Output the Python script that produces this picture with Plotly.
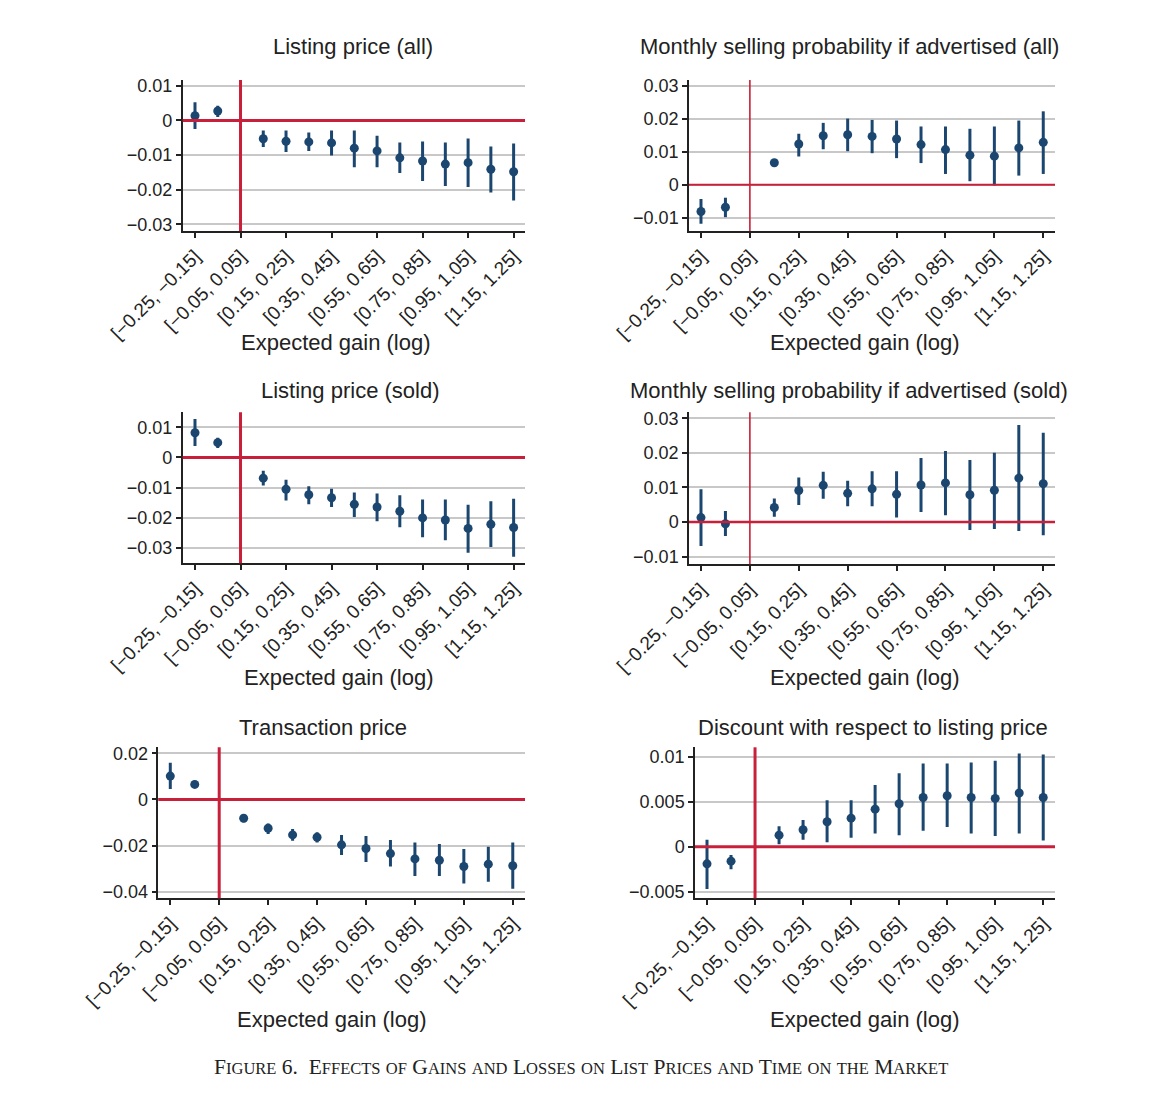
import plotly.graph_objects as go

# ---------------- data ----------------
CATEGORIES = ["[−0.25, −0.15]", "[−0.15, −0.05]", "[−0.05, 0.05]", "[0.05, 0.15]",
              "[0.15, 0.25]", "[0.25, 0.35]", "[0.35, 0.45]", "[0.45, 0.55]",
              "[0.55, 0.65]", "[0.65, 0.75]", "[0.75, 0.85]", "[0.85, 0.95]",
              "[0.95, 1.05]", "[1.05, 1.15]", "[1.15, 1.25]"]
REFERENCE_BIN = "[−0.05, 0.05]"
TICK_LABELS = ["[−0.25, −0.15]", "[−0.05, 0.05]", "[0.15, 0.25]", "[0.35, 0.45]",
               "[0.55, 0.65]", "[0.75, 0.85]", "[0.95, 1.05]", "[1.15, 1.25]"]
POINT_BINS = [c for c in CATEGORIES if c != REFERENCE_BIN]

# Listing price (all)
lp_all_est = [0.00135, 0.0027, -0.0053, -0.0060, -0.0062, -0.0065, -0.0080, -0.0088, -0.0108, -0.0117, -0.0126, -0.0122, -0.0141, -0.0148]
lp_all_hi  = [0.0052, 0.0042, -0.0029, -0.0029, -0.0035, -0.0029, -0.0029, -0.0044, -0.0064, -0.0061, -0.0064, -0.0052, -0.0075, -0.0067]
lp_all_lo  = [-0.0025, 0.0010, -0.0077, -0.0091, -0.0088, -0.0101, -0.0135, -0.0135, -0.0152, -0.0175, -0.0189, -0.0192, -0.0208, -0.0231]

# Monthly selling probability if advertised (all)
sp_all_est = [-0.0081, -0.0068, 0.0067, 0.0124, 0.0149, 0.0152, 0.0147, 0.0139, 0.0122, 0.0107, 0.0090, 0.0087, 0.0112, 0.0129]
sp_all_hi  = [-0.0043, -0.0039, 0.0074, 0.0155, 0.0188, 0.0201, 0.0197, 0.0195, 0.0177, 0.0177, 0.0170, 0.0177, 0.0195, 0.0223]
sp_all_lo  = [-0.0118, -0.0098, 0.0060, 0.0086, 0.0108, 0.0102, 0.0096, 0.0081, 0.0066, 0.0033, 0.0011, -0.0002, 0.0028, 0.0033]

# Listing price (sold)
lp_sold_est = [0.0082, 0.0049, -0.0069, -0.0106, -0.0124, -0.0134, -0.0156, -0.0165, -0.0179, -0.0201, -0.0208, -0.0236, -0.0222, -0.0233]
lp_sold_hi  = [0.0128, 0.0065, -0.0044, -0.0074, -0.0096, -0.0104, -0.0117, -0.0120, -0.0126, -0.0140, -0.0140, -0.0157, -0.0146, -0.0137]
lp_sold_lo  = [0.0038, 0.0031, -0.0093, -0.0143, -0.0156, -0.0165, -0.0198, -0.0212, -0.0232, -0.0265, -0.0275, -0.0317, -0.0298, -0.0330]

# Monthly selling probability if advertised (sold)
sp_sold_est = [0.0013, -0.0005, 0.0042, 0.0091, 0.0106, 0.0083, 0.0096, 0.0080, 0.0107, 0.0113, 0.0079, 0.0092, 0.0127, 0.0111]
sp_sold_hi  = [0.0095, 0.0032, 0.0068, 0.0129, 0.0145, 0.0119, 0.0147, 0.0147, 0.0185, 0.0205, 0.0179, 0.0200, 0.0280, 0.0258]
sp_sold_lo  = [-0.0069, -0.0040, 0.0015, 0.0049, 0.0067, 0.0046, 0.0046, 0.0013, 0.0029, 0.0020, -0.0023, -0.0020, -0.0026, -0.0038]

# Transaction price
tp_est = [0.0101, 0.0065, -0.0082, -0.0125, -0.0154, -0.0164, -0.0197, -0.0213, -0.0235, -0.0258, -0.0264, -0.0291, -0.0281, -0.0288]
tp_hi  = [0.0159, 0.0081, -0.0068, -0.0104, -0.0128, -0.0143, -0.0154, -0.0159, -0.0176, -0.0187, -0.0193, -0.0215, -0.0205, -0.0187]
tp_lo  = [0.0045, 0.0050, -0.0099, -0.0150, -0.0179, -0.0187, -0.0241, -0.0271, -0.0291, -0.0332, -0.0332, -0.0365, -0.0357, -0.0388]

# Discount with respect to listing price
dc_est = [-0.0019, -0.0016, 0.0013, 0.0019, 0.0028, 0.0032, 0.0042, 0.0048, 0.0055, 0.0057, 0.0055, 0.0054, 0.0060, 0.0055]
dc_hi  = [0.0008, -0.0009, 0.0023, 0.0030, 0.0052, 0.0052, 0.0069, 0.0082, 0.0093, 0.0093, 0.0094, 0.0096, 0.0104, 0.0103]
dc_lo  = [-0.0047, -0.0025, 0.0003, 0.0008, 0.0005, 0.0010, 0.0015, 0.0013, 0.0018, 0.0022, 0.0015, 0.0012, 0.0015, 0.0007]

TITLES = ["Listing price (all)", "Monthly selling probability if advertised (all)",
          "Listing price (sold)", "Monthly selling probability if advertised (sold)",
          "Transaction price", "Discount with respect to listing price"]
X_TITLE = "Expected gain (log)"

Y_TICKS = [
    [0.01, 0, -0.01, -0.02, -0.03],
    [0.03, 0.02, 0.01, 0, -0.01],
    [0.01, 0, -0.01, -0.02, -0.03],
    [0.03, 0.02, 0.01, 0, -0.01],
    [0.02, 0, -0.02, -0.04],
    [0.01, 0.005, 0, -0.005],
]
Y_TICK_LABELS = [
    ["0.01", "0", "−0.01", "−0.02", "−0.03"],
    ["0.03", "0.02", "0.01", "0", "−0.01"],
    ["0.01", "0", "−0.01", "−0.02", "−0.03"],
    ["0.03", "0.02", "0.01", "0", "−0.01"],
    ["0.02", "0", "−0.02", "−0.04"],
    ["0.01", "0.005", "0", "−0.005"],
]
SERIES = [
    (lp_all_est, lp_all_lo, lp_all_hi),
    (sp_all_est, sp_all_lo, sp_all_hi),
    (lp_sold_est, lp_sold_lo, lp_sold_hi),
    (sp_sold_est, sp_sold_lo, sp_sold_hi),
    (tp_est, tp_lo, tp_hi),
    (dc_est, dc_lo, dc_hi),
]

# ---------------- layout (pixels) ----------------
W, H = 1161, 1094
LAYOUT = [
    dict(x=(182.7, 525), y=(80, 231), yr=(-0.0319, 0.01165), xr=(-0.54, 14.5),
         title=(353, 47), xt=(336, 343), hw=3, vw=3),
    dict(x=(689, 1055), y=(80, 231), yr=(-0.0140, 0.0318), xr=(-0.49, 14.48),
         title=(849.5, 47), xt=(865, 343), hw=2, vw=1.6),
    dict(x=(182.7, 525), y=(412.3, 563.3), yr=(-0.0352, 0.0150), xr=(-0.54, 14.5),
         title=(350.5, 391), xt=(339, 677), hw=3, vw=3),
    dict(x=(689, 1055), y=(412.3, 564.3), yr=(-0.0122, 0.0317), xr=(-0.49, 14.48),
         title=(849, 391), xt=(865, 677), hw=2.5, vw=1.6),
    dict(x=(158.3, 525), y=(747.3, 898.3), yr=(-0.0429, 0.0226), xr=(-0.49, 14.5),
         title=(323, 727), xt=(331.5, 1019), hw=3, vw=3),
    dict(x=(695, 1055), y=(747.3, 898.3), yr=(-0.00574, 0.0111), xr=(-0.5, 14.49),
         title=(873, 727), xt=(865, 1019), hw=3, vw=3),
]

BLUE = "#1b4670"
RED = "#c8203a"
GRID = "#c8c8c8"
INK = "#222222"
FONT = "Liberation Sans, Arial, sans-serif"

fig = go.Figure()
shapes = []
annotations = []
ref_idx = CATEGORIES.index(REFERENCE_BIN)

for i, ((est, lo, hi), lay) in enumerate(zip(SERIES, LAYOUT)):
    n = i + 1
    xn = "x" if n == 1 else f"x{n}"
    yn = "y" if n == 1 else f"y{n}"
    xk = "xaxis" if n == 1 else f"xaxis{n}"
    yk = "yaxis" if n == 1 else f"yaxis{n}"

    fig.add_trace(go.Scatter(
        x=POINT_BINS, y=est, mode="markers",
        marker=dict(color=BLUE, size=9),
        error_y=dict(type="data", symmetric=False,
                     array=[h - e for h, e in zip(hi, est)],
                     arrayminus=[e - l for e, l in zip(est, lo)],
                     thickness=3, width=0, color=BLUE),
        xaxis=xn, yaxis=yn, showlegend=False, hoverinfo="skip"))

    fig.layout[xk] = dict(
        domain=[lay["x"][0] / W, lay["x"][1] / W], anchor=yn, automargin=False,
        type="category", categoryorder="array", categoryarray=CATEGORIES,
        range=list(lay["xr"]), tickmode="array", tickvals=TICK_LABELS, ticktext=TICK_LABELS,
        tickangle=-45, ticks="outside", ticklen=5, tickwidth=1.5, tickcolor=INK,
        showline=True, linecolor=INK, linewidth=1.5, showgrid=False, zeroline=False,
        tickfont=dict(family=FONT, size=19, color=INK))
    fig.layout[yk] = dict(
        domain=[1 - lay["y"][1] / H, 1 - lay["y"][0] / H], anchor=xn, automargin=False,
        range=list(lay["yr"]), tickmode="array", tickvals=Y_TICKS[i], ticktext=Y_TICK_LABELS[i],
        ticks="outside", ticklen=5, tickwidth=1.5, tickcolor=INK,
        showline=True, linecolor=INK, linewidth=1.5,
        showgrid=True, gridcolor=GRID, gridwidth=1.5, zeroline=False,
        tickfont=dict(family=FONT, size=18, color=INK))

    shapes.append(dict(type="line", xref=xn, yref=f"{yn} domain", x0=ref_idx, x1=ref_idx,
                       y0=0, y1=1, line=dict(color=RED, width=lay["vw"]), layer="above"))
    shapes.append(dict(type="line", xref=f"{xn} domain", yref=yn, x0=0, x1=1, y0=0, y1=0,
                       line=dict(color=RED, width=lay["hw"]), layer="above"))

    annotations.append(dict(text=TITLES[i], xref="paper", yref="paper",
                            x=lay["title"][0] / W, y=1 - lay["title"][1] / H,
                            xanchor="center", yanchor="middle", showarrow=False,
                            font=dict(family=FONT, size=22, color=INK)))
    annotations.append(dict(text=X_TITLE, xref="paper", yref="paper",
                            x=lay["xt"][0] / W, y=1 - lay["xt"][1] / H,
                            xanchor="center", yanchor="middle", showarrow=False,
                            font=dict(family=FONT, size=22, color=INK)))


def small_caps(text, big=21.5, small=16.5):
    out = []
    for word in text.split(" "):
        if word == "":
            out.append("")
            continue
        first, rest = word[0], word[1:]
        if first.isupper() or first.isdigit():
            s = f'<span style="font-size:{big}px">{first}</span>'
        else:
            s = f'<span style="font-size:{small}px">{first.upper()}</span>'
        if rest:
            if not any(c.isalpha() for c in rest):
                s += f'<span style="font-size:{big}px">{rest}</span>'
            else:
                s += f'<span style="font-size:{small}px">{rest.upper()}</span>'
        out.append(s)
    return "&nbsp;".join(out)


CAPTION = "Figure 6.  Effects of Gains and Losses on List Prices and Time on the Market"
annotations.append(dict(text=small_caps(CAPTION), xref="paper", yref="paper",
                        x=580.5 / W, y=1 - 1067 / H, xanchor="center", yanchor="middle",
                        showarrow=False,
                        font=dict(family="Liberation Serif, Times New Roman, serif", size=21.5, color=INK)))

fig.update_layout(
    width=W, height=H, autosize=False,
    margin=dict(l=0, r=0, t=0, b=0, autoexpand=False),
    paper_bgcolor="white", plot_bgcolor="white",
    shapes=shapes, annotations=annotations,
    font=dict(family=FONT, color=INK),
)

fig.write_html("out.html", config={"displayModeBar": False},
               post_script="document.body.style.margin='0';")
